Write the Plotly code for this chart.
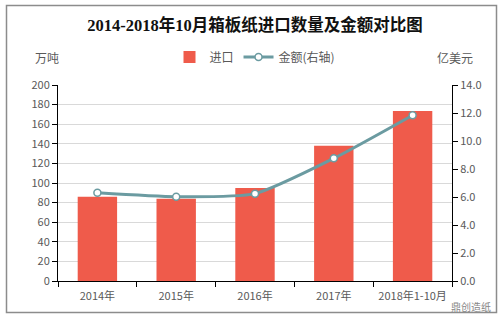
import plotly.graph_objects as go

categories = ["2014年", "2015年", "2016年", "2017年", "2018年1-10月"]
import_volume = [86, 84, 95, 138, 173.5]
import_value = [6.3, 6.02, 6.24, 8.76, 11.84]
left_ticks = [0, 20, 40, 60, 80, 100, 120, 140, 160, 180, 200]
right_ticks = [0, 2, 4, 6, 8, 10, 12, 14]

BAR = "#EF5B4B"
LINE = "#6B9BA1"
TXT = "#595959"
FONT = "Noto Sans CJK SC, Microsoft YaHei, sans-serif"

fig = go.Figure()
fig.add_trace(go.Bar(x=categories, y=import_volume, name="进口",
                     marker=dict(color=BAR, line=dict(width=0)), width=0.5))
fig.add_trace(go.Scatter(x=categories, y=import_value, name="金额(右轴)", yaxis="y2",
                         mode="lines+markers",
                         line=dict(color=LINE, width=3, shape="spline", smoothing=0.6),
                         marker=dict(color="white", size=7, line=dict(color=LINE, width=1.5))))

L, R, T, B = 58, 49, 85, 40
pw = 501 - L - R
ph = 321 - T - B

def px(x):
    return (x - L) / pw

def py(y):
    return (321 - B - y) / ph

fig.update_layout(
    width=501, height=321,
    margin=dict(l=L, r=R, t=T, b=B),
    paper_bgcolor="white", plot_bgcolor="white",
    font=dict(family=FONT, size=11, color=TXT),
    bargap=0.5,
    showlegend=True,
    legend=dict(orientation="h", x=0.5, xanchor="center", y=py(57), yanchor="middle",
                font=dict(size=12, color=TXT), bgcolor="rgba(0,0,0,0)",
                itemwidth=30, traceorder="normal"),
    title=dict(text="<b>2014-2018年10月箱板纸进口数量及金额对比图</b>",
               x=0.5, xref="paper", y=1 - 25 / 321, yanchor="middle",
               font=dict(family="Liberation Serif, Noto Sans CJK SC, serif", size=16.5, color="#111111")),
    xaxis=dict(type="category", showline=True, linecolor="black", linewidth=1,
               ticks="outside", tickson="boundaries", ticklen=5, tickcolor="black",
               showgrid=False, tickfont=dict(size=11, color=TXT), ticklabelstandoff=5),
    yaxis=dict(range=[0, 200], tickvals=left_ticks, showline=True, linecolor="black",
               linewidth=1, ticks="outside", ticklen=5, tickcolor="black",
               gridcolor="#D9D9D9", gridwidth=1, zeroline=False,
               tickfont=dict(size=11, color=TXT)),
    yaxis2=dict(range=[0, 14], tickvals=right_ticks, tickformat=".1f", overlaying="y",
                side="right", showline=True, linecolor="black", linewidth=1,
                ticks="outside", ticklen=5, tickcolor="black", showgrid=False,
                zeroline=False, tickfont=dict(size=11, color=TXT)),
    shapes=[dict(type="rect", xref="paper", yref="paper",
                 x0=px(6.5), x1=px(496.5), y0=py(312.5), y1=py(5.5),
                 line=dict(color="#8C8C8C", width=1.5), fillcolor="rgba(0,0,0,0)", layer="below")],
    annotations=[
        dict(text="万吨", xref="paper", yref="paper", x=px(47), y=py(57),
             xanchor="center", yanchor="middle", showarrow=False,
             font=dict(size=12, color=TXT)),
        dict(text="亿美元", xref="paper", yref="paper", x=px(455), y=py(57),
             xanchor="center", yanchor="middle", showarrow=False,
             font=dict(size=12, color=TXT)),
        dict(text="鼎创造纸", xref="paper", yref="paper", x=px(493), y=py(306),
             xanchor="right", yanchor="middle", showarrow=False,
             font=dict(size=10, color="#888888")),
    ],
)

fig.write_html("out.html")
